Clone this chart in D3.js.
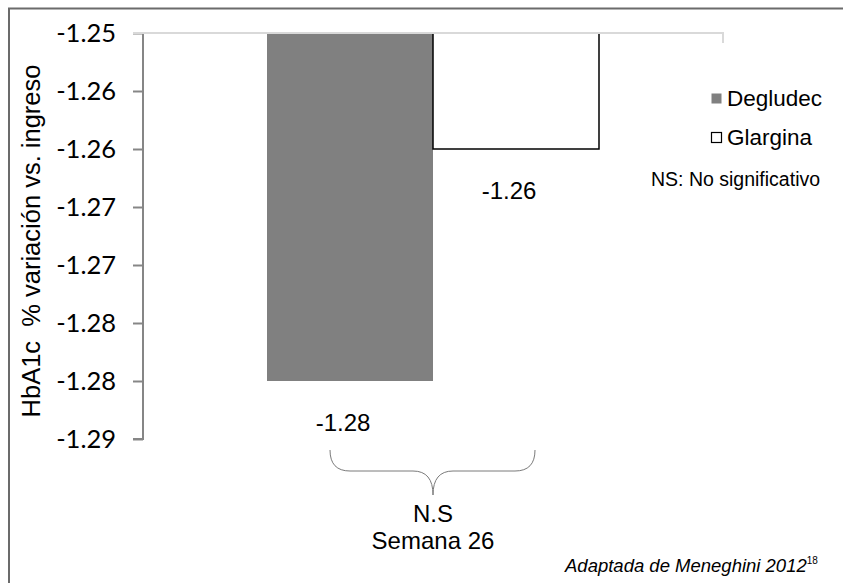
<!DOCTYPE html>
<html>
<head>
<meta charset="utf-8">
<script src="https://cdn.jsdelivr.net/npm/d3@7"></script>
<style>
  html, body { margin: 0; padding: 0; background: #fff; }
  svg { display: block; }
  text { white-space: pre; }
</style>
</head>
<body>
<svg id="chart" width="843" height="583"></svg>
<script>
// HbA1c change from baseline at week 26, Degludec vs Glargina
const categories = ["Semana 26"];
const seriesNames = ["Degludec", "Glargina"];
const seriesValues = [-1.28, -1.26];
const valueLabels = ["-1.28", "-1.26"];
const tickValues = [-1.25, -1.255, -1.26, -1.265, -1.27, -1.275, -1.28, -1.285];
const tickLabels = ["-1.25", "-1.26", "-1.26", "-1.27", "-1.27", "-1.28", "-1.28", "-1.29"];
const yTitle = "HbA1c  % variación vs. ingreso";
const significance = "N.S";
const noteText = "NS: No significativo";
const sourceText = "Adaptada de Meneghini 2012";
const sourceRef = "18";

const seriesFill = { Degludec: "#808080", Glargina: "#ffffff" };
const seriesStroke = { Degludec: "none", Glargina: "#000000" };

const svg = d3.select("#chart");
const plot = { left: 143, top: 33, right: 723, bottom: 439 };

// Outer chart frame
svg.append("rect")
  .attr("x", 9).attr("y", 8.5)
  .attr("width", 900).attr("height", 700)
  .attr("fill", "none").attr("stroke", "#6b6b6b").attr("stroke-width", 2);

const y = d3.scaleLinear()
  .domain([-1.25, -1.285])
  .range([plot.top, plot.bottom]);

const x0 = d3.scaleBand()
  .domain(categories)
  .range([plot.left, plot.right])
  .paddingInner(0)
  .paddingOuter(0.3735);

const x1 = d3.scaleBand()
  .domain(seriesNames)
  .range([0, x0.bandwidth()])
  .padding(0);

// Value axis
const yAxis = d3.axisLeft(y)
  .tickValues(tickValues)
  .tickFormat((d, i) => tickLabels[i])
  .tickSize(10)
  .tickPadding(17);

const gy = svg.append("g")
  .attr("transform", `translate(${plot.left},0)`)
  .call(yAxis);
gy.select(".domain").attr("stroke", "#868686").attr("stroke-width", 2)
  .attr("d", `M0,${plot.top}V${plot.bottom}H-10`);
gy.selectAll(".tick line").attr("stroke", "#868686").attr("stroke-width", 2);
gy.selectAll(".tick text")
  .attr("fill", "#000")
  .style("font-family", "Lato, 'Open Sans', sans-serif")
  .style("font-size", "25.5px");

// Bars
const groups = svg.append("g")
  .selectAll("g")
  .data(categories)
  .join("g")
  .attr("transform", d => `translate(${x0(d)},0)`);

groups.selectAll("rect")
  .data(seriesNames.map((s, i) => ({ s, v: seriesValues[i] })))
  .join("rect")
  .attr("x", d => x1(d.s))
  .attr("y", d => y(-1.25))
  .attr("width", x1.bandwidth())
  .attr("height", d => y(d.v) - y(-1.25))
  .attr("fill", d => seriesFill[d.s])
  .attr("stroke", d => seriesStroke[d.s])
  .attr("stroke-width", 1.5);

// Category axis sitting at the top of the plot
const catAxis = svg.append("g");
catAxis.append("path")
  .attr("d", `M${plot.left - 10},${plot.top}H${plot.right}v10`)
  .attr("fill", "none").attr("stroke", "#d9d9d9").attr("stroke-width", 2);

// Value labels under each bar
groups.selectAll("text.val")
  .data(seriesNames.map((s, i) => ({ s, v: seriesValues[i], label: valueLabels[i] })))
  .join("text")
  .attr("class", "val")
  .attr("x", d => x1(d.s) + x1.bandwidth() / 2 - 7)
  .attr("y", d => y(d.v) + 50)
  .attr("text-anchor", "middle")
  .style("font-family", "'Liberation Sans', Arial, sans-serif")
  .style("font-size", "24px")
  .text(d => d.label);

// Y axis title
svg.append("text")
  .attr("transform", `translate(40,241) rotate(-90)`)
  .attr("text-anchor", "middle")
  .style("font-family", "'Liberation Sans', Arial, sans-serif")
  .style("font-size", "25.5px")
  .text(yTitle);

// Brace grouping both bars, with significance and category label
const cx = x0(categories[0]) + x0.bandwidth() / 2;
const bx0 = cx - 103, bx1 = cx + 102, btop = 450, bmid = 471, btip = 495;
svg.append("path")
  .attr("d", `M${bx0},${btop} Q${bx0},${bmid} ${bx0 + 20},${bmid} L${cx - 20},${bmid} Q${cx},${bmid} ${cx},${btip} Q${cx},${bmid} ${cx + 20},${bmid} L${bx1 - 20},${bmid} Q${bx1},${bmid} ${bx1},${btop}`)
  .attr("fill", "none").attr("stroke", "#7a7a7a").attr("stroke-width", 1);

svg.append("text")
  .attr("x", cx).attr("y", 522)
  .attr("text-anchor", "middle")
  .style("font-family", "'Liberation Sans', Arial, sans-serif")
  .style("font-size", "24px")
  .text(significance);

svg.selectAll("text.cat")
  .data(categories)
  .join("text")
  .attr("class", "cat")
  .attr("x", d => x0(d) + x0.bandwidth() / 2)
  .attr("y", 549)
  .attr("text-anchor", "middle")
  .style("font-family", "'Liberation Sans', Arial, sans-serif")
  .style("font-size", "24px")
  .text(d => d);

// Legend
const legend = svg.append("g").attr("transform", "translate(711,0)");
const legendRows = legend.selectAll("g")
  .data(seriesNames)
  .join("g")
  .attr("transform", (d, i) => `translate(0,${93 + i * 39})`);
legendRows.append("rect")
  .attr("x", 0.5).attr("y", 0.5)
  .attr("width", 10).attr("height", 10)
  .attr("fill", d => seriesFill[d])
  .attr("stroke", d => d === "Glargina" ? "#000" : "none")
  .attr("stroke-width", 1.2);
legendRows.append("text")
  .attr("x", 16).attr("y", 13)
  .style("font-family", "'Liberation Sans', Arial, sans-serif")
  .style("font-size", "22.5px")
  .text(d => d);

svg.append("text")
  .attr("x", 651).attr("y", 186)
  .style("font-family", "'Liberation Sans', Arial, sans-serif")
  .style("font-size", "19.5px")
  .text(noteText);

// Source note
const src = svg.append("text")
  .attr("x", 565).attr("y", 572)
  .style("font-family", "'Liberation Sans', Arial, sans-serif")
  .style("font-size", "18.5px")
  .style("font-style", "italic");
src.append("tspan").text(sourceText);
src.append("tspan")
  .attr("dy", -8)
  .style("font-size", "10px")
  .style("font-style", "normal")
  .text(sourceRef);
</script>
</body>
</html>
